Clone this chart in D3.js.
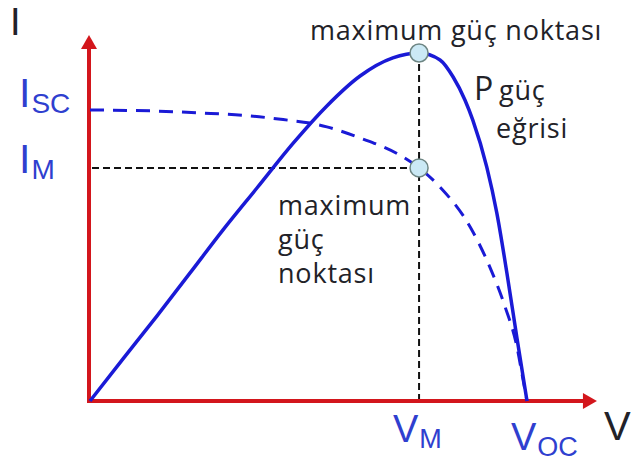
<!DOCTYPE html>
<html>
<head>
<meta charset="utf-8">
<script src="https://cdn.jsdelivr.net/npm/d3@7/dist/d3.min.js"></script>
<style>
  html, body { margin: 0; padding: 0; background: #fff; }
  svg { display: block; }
</style>
</head>
<body>
<svg id="chart" width="631" height="472"></svg>
<script>
// Normalised solar-cell characteristic: V / Voc, I / Isc, P / Pmax
const ivVoltage = [0, 0.137, 0.252, 0.366, 0.442, 0.503, 0.542, 0.618, 0.709, 0.753, 0.801, 0.870, 0.915, 0.950, 0.977, 0.989, 1.0];
const ivCurrent = [1.0, 0.997, 0.990, 0.980, 0.967, 0.955, 0.942, 0.904, 0.845, 0.801, 0.735, 0.598, 0.460, 0.323, 0.186, 0.089, 0.0];

const pvVoltage = [0, 0.0755, 0.153, 0.229, 0.304, 0.382, 0.465, 0.542, 0.618, 0.693, 0.753, 0.801, 0.831, 0.858, 0.876, 0.908, 0.931, 0.954, 0.977, 1.0];
const pvPower   = [0, 0.121, 0.244, 0.368, 0.491, 0.612, 0.741, 0.848, 0.934, 0.986, 1.0, 0.980, 0.931, 0.865, 0.807, 0.672, 0.540, 0.368, 0.181, 0.0];

// Maximum power point and axis extents (normalised units)
const mpp = { v: 0.753, i: 0.801, p: 1.0 };
const axisEnd = { v: 1.16, i: 1.258 };

const svg = d3.select("#chart");

const x = d3.scaleLinear().domain([0, 1]).range([90, 527]);
const y = d3.scaleLinear().domain([0, 1]).range([401, 110]);
const yP = d3.scaleLinear().domain([0, 1]).range([401, 53]);

const red = "#d3161c";
const blue = "#1a1ad6";
const labelBlue = "#2f3fcf";
const ink = "#222228";

// Axes with arrowheads
const axes = svg.append("g");
axes.append("line")
  .attr("x1", x(0) - 1).attr("y1", y(0))
  .attr("x2", x(0) - 1).attr("y2", y(axisEnd.i) + 12)
  .attr("stroke", red).attr("stroke-width", 4);
axes.append("path")
  .attr("d", d3.line()([[x(0) - 9, y(axisEnd.i) + 14], [x(0) - 1, y(axisEnd.i)], [x(0) + 7, y(axisEnd.i) + 14]]) + "Z")
  .attr("fill", red);
axes.append("line")
  .attr("x1", x(0) - 3).attr("y1", y(0))
  .attr("x2", x(axisEnd.v) - 12).attr("y2", y(0))
  .attr("stroke", red).attr("stroke-width", 4);
axes.append("path")
  .attr("d", d3.line()([[x(axisEnd.v) - 14, y(0) - 8], [x(axisEnd.v), y(0)], [x(axisEnd.v) - 14, y(0) + 8]]) + "Z")
  .attr("fill", red);

// Guide lines to the maximum power point
const guides = svg.append("g")
  .attr("stroke", "#111").attr("stroke-width", 2).attr("stroke-dasharray", "7,4").attr("fill", "none");
guides.append("line")
  .attr("x1", x(0) + 2).attr("y1", y(mpp.i))
  .attr("x2", x(mpp.v)).attr("y2", y(mpp.i));
guides.append("line")
  .attr("x1", x(mpp.v)).attr("y1", yP(mpp.p))
  .attr("x2", x(mpp.v)).attr("y2", y(0) - 2);

// I-V curve (dashed) and P-V curve (solid)
const ivLine = d3.line()
  .x((d, k) => x(ivVoltage[k]))
  .y((d, k) => y(ivCurrent[k]))
  .curve(d3.curveMonotoneX);
const pvLine = d3.line()
  .x((d, k) => x(pvVoltage[k]))
  .y((d, k) => yP(pvPower[k]))
  .curve(d3.curveMonotoneX);

svg.append("path")
  .attr("d", ivLine(ivVoltage))
  .attr("fill", "none").attr("stroke", blue).attr("stroke-width", 3)
  .attr("stroke-dasharray", "14,9");
svg.append("path")
  .attr("d", pvLine(pvVoltage))
  .attr("fill", "none").attr("stroke", blue).attr("stroke-width", 3.5)
  .attr("stroke-linejoin", "round");

// Maximum power point markers
[[mpp.v, yP(mpp.p)], [mpp.v, y(mpp.i)]].forEach(([v, py]) => {
  svg.append("circle")
    .attr("cx", x(v)).attr("cy", py).attr("r", 9)
    .attr("fill", "#cbe9f5").attr("stroke", "#6e8684").attr("stroke-width", 1.5);
});

// Axis symbol labels
const sym = "'Liberation Sans', Arial, sans-serif";
function symbol(xPos, yPos, main, sub, size, subSize, color) {
  const t = svg.append("text")
    .attr("x", xPos).attr("y", yPos)
    .attr("font-family", sym).attr("fill", color);
  t.append("tspan").attr("font-size", size).text(main);
  if (sub) t.append("tspan").attr("font-size", subSize).attr("dy", 6).attr("dx", 1).text(sub);
}
symbol(10, 35, "I", null, 38, 0, ink);
symbol(19, 107, "I", "SC", 41, 28, labelBlue);
symbol(19, 173, "I", "M", 41, 28, labelBlue);
symbol(393, 442, "V", "M", 38, 27, labelBlue);
symbol(511, 450, "V", "OC", 38, 27, labelBlue);
symbol(604, 440, "V", null, 40, 0, ink);

// Annotations
const note = "'Open Sans', 'Noto Sans', sans-serif";
const noteSize = 27;
const noteSpacing = 0.8;
svg.append("text")
  .attr("x", 310).attr("y", 40)
  .attr("font-family", note).attr("font-size", noteSize).attr("letter-spacing", noteSpacing)
  .attr("fill", ink)
  .text("maximum güç noktası");

const mid = svg.append("text")
  .attr("font-family", note).attr("font-size", noteSize).attr("letter-spacing", noteSpacing)
  .attr("fill", ink);
["maximum", "güç", "noktası"].forEach((s, k) => {
  mid.append("tspan").attr("x", 278).attr("y", 215 + k * 34).text(s);
});

const pLabel = svg.append("text").attr("font-family", note).attr("fill", ink)
  .attr("letter-spacing", noteSpacing);
pLabel.append("tspan").attr("x", 474).attr("y", 100).attr("font-size", 32).text("P");
pLabel.append("tspan").attr("x", 499).attr("y", 100).attr("font-size", noteSize).text("güç");
pLabel.append("tspan").attr("x", 496).attr("y", 138).attr("font-size", noteSize).text("eğrisi");
</script>
</body>
</html>
